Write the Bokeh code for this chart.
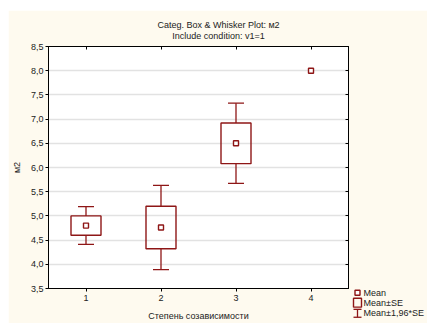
from bokeh.plotting import figure
from bokeh.models import (Range1d, FixedTicker, LinearAxis, ColumnDataSource)
from bokeh.core.properties import value
from bokeh.embed import file_html
from bokeh.resources import INLINE

# ---- data ----
categories = [1, 2, 3, 4]
means = [4.80, 4.76, 6.50, 8.00]
se_low = [4.60, 4.32, 6.08, 8.00]
se_high = [5.00, 5.20, 6.92, 8.00]
ci_low = [4.41, 3.89, 5.67, 8.00]
ci_high = [5.19, 5.63, 7.33, 8.00]
x_ticks = [1, 2, 3, 4]
x_tick_labels = ["1", "2", "3", "4"]
y_ticks = [3.5, 4.0, 4.5, 5.0, 5.5, 6.0, 6.5, 7.0, 7.5, 8.0, 8.5]
y_tick_labels = ["3,5", "4,0", "4,5", "5,0", "5,5", "6,0", "6,5", "7,0", "7,5", "8,0", "8,5"]
title_text = "Categ. Box & Whisker Plot: м2"
subtitle_text = "Include condition: v1=1"
x_label = "Степень созависимости"
y_label = "м2"
legend_labels = ["Mean", "Mean±SE", "Mean±1,96*SE"]

FONT = "Liberation Sans"
RED = "#8E1616"
CREAM = "#FEFAEF"
TXT = "#222222"

W, H = 419, 313
BL, BR, BT, BB = 40, 79, 36, 33
FW, FH = W - BL - BR, H - BT - BB

p = figure(width=W, height=H, output_backend="svg", toolbar_location=None,
           x_range=Range1d(0.5, 4.5), y_range=Range1d(3.5, 8.5),
           min_border_left=BL, min_border_right=BR, min_border_top=BT,
           min_border_bottom=BB)
p.margin = (10, 0, 0, 8)
p.background_fill_color = "white"
p.border_fill_color = CREAM
p.outline_line_color = "black"
p.outline_line_width = 1

# pixel -> data helpers (relative to the frame)
ppx = FW / 4.0
ppy = FH / 5.0
def dx(px):  # screen px from frame left -> data x
    return 0.5 + px / ppx
def dy(py):  # screen px from frame top -> data y
    return 8.5 - py / ppy

# axes
p.xaxis.ticker = FixedTicker(ticks=x_ticks)
p.xaxis.major_label_overrides = {t: l for t, l in zip(x_ticks, x_tick_labels)}
p.yaxis.ticker = FixedTicker(ticks=y_ticks)
p.yaxis.major_label_overrides = {t: l for t, l in zip(y_ticks, y_tick_labels)}
for ax in (p.xaxis[0], p.yaxis[0]):
    ax.axis_line_color = "black"
    ax.major_tick_line_color = "black"
    ax.major_tick_in = 0
    ax.major_tick_out = 3
    ax.minor_tick_line_color = None
    ax.major_label_text_font = FONT
    ax.major_label_text_font_size = "9px"
    ax.major_label_text_color = TXT
    ax.axis_label_text_font = FONT
    ax.axis_label_text_font_size = "9px"
    ax.axis_label_text_font_style = "normal"
    ax.axis_label_text_color = TXT
p.xaxis.axis_label = x_label
p.yaxis.axis_label = y_label
p.xaxis.major_label_standoff = 3
p.xaxis.axis_label_standoff = 7
p.yaxis.major_label_standoff = 2
p.yaxis.axis_label_standoff = 6

top_ax = LinearAxis(ticker=FixedTicker(ticks=x_ticks), major_tick_in=3, major_tick_out=0,
                    minor_tick_line_color=None, major_label_text_color=None,
                    major_label_text_font_size="9px",
                    axis_line_color="black", major_tick_line_color="black")
right_ax = LinearAxis(ticker=FixedTicker(ticks=y_ticks), major_tick_in=3, major_tick_out=0,
                      minor_tick_line_color=None, major_label_text_color=None,
                      major_label_text_font_size="9px",
                      axis_line_color="black", major_tick_line_color="black")
p.add_layout(top_ax, "above")
p.add_layout(right_ax, "right")

p.xgrid.grid_line_color = None
p.ygrid.ticker = FixedTicker(ticks=y_ticks)
p.ygrid.grid_line_color = "#E2E2E2"
p.ygrid.grid_line_width = 1.6

# ---- boxes & whiskers (only where spread exists) ----
idx = [i for i in range(len(categories)) if ci_high[i] > ci_low[i]]
bw = 15 / ppx   # half box width (15 px)
cw = 8 / ppx    # half cap width (8 px)
src = ColumnDataSource(dict(
    x=[categories[i] for i in idx],
    left=[categories[i] - bw for i in idx],
    right=[categories[i] + bw for i in idx],
    cl=[categories[i] - cw for i in idx],
    cr=[categories[i] + cw for i in idx],
    se_low=[se_low[i] for i in idx],
    se_high=[se_high[i] for i in idx],
    ci_low=[ci_low[i] for i in idx],
    ci_high=[ci_high[i] for i in idx],
))
p.segment(x0="x", y0="ci_low", x1="x", y1="se_low", source=src, line_color=RED, line_width=1.3)
p.segment(x0="x", y0="se_high", x1="x", y1="ci_high", source=src, line_color=RED, line_width=1.3)
p.segment(x0="cl", y0="ci_low", x1="cr", y1="ci_low", source=src, line_color=RED, line_width=1.3)
p.segment(x0="cl", y0="ci_high", x1="cr", y1="ci_high", source=src, line_color=RED, line_width=1.3)
p.quad(left="left", right="right", bottom="se_low", top="se_high", source=src,
       fill_color=None, line_color=RED, line_width=1.4)

msrc = ColumnDataSource(dict(x=categories, y=means))
p.scatter(x="x", y="y", source=msrc, marker="square", size=5, fill_color="white",
          line_color=RED, line_width=1.4)

# ---- titles (drawn above the frame) ----
tx = dx(218 - 48)
p.text(x=[tx], y=[dy(-22)], text=[title_text], text_align="center", text_baseline="middle",
       text_font=value(FONT), text_font_size="9px", text_color=TXT, level="overlay")
p.text(x=[tx], y=[dy(-11)], text=[subtitle_text], text_align="center", text_baseline="middle",
       text_font=value(FONT), text_font_size="9px", text_color=TXT, level="overlay")

# ---- manual legend below right of frame ----
lx = dx(309)
rows = [dy(FH + 4.3), dy(FH + 14.3), dy(FH + 25)]
hx = 4 / ppx
sq = 2.5
p.quad(left=[lx - sq / ppx], right=[lx + sq / ppx], bottom=[rows[0] - sq / ppy],
       top=[rows[0] + sq / ppy], fill_color="white", line_color=RED, line_width=1.4,
       level="overlay")
p.quad(left=[lx - hx], right=[lx + hx], bottom=[rows[1] - 4.5 / ppy], top=[rows[1] + 4.5 / ppy],
       fill_color=None, line_color=RED, line_width=1.4, level="overlay")
p.segment(x0=[lx], y0=[rows[2] - 4 / ppy], x1=[lx], y1=[rows[2] + 4 / ppy],
          line_color=RED, line_width=1.3, level="overlay")
p.segment(x0=[lx - hx, lx - hx], y0=[rows[2] - 4 / ppy, rows[2] + 4 / ppy],
          x1=[lx + hx, lx + hx], y1=[rows[2] - 4 / ppy, rows[2] + 4 / ppy],
          line_color=RED, line_width=1.3, level="overlay")
p.text(x=[dx(315)] * 3, y=rows, text=legend_labels, text_align="left", text_baseline="middle",
       text_font=value(FONT), text_font_size="9px", text_color=TXT, level="overlay")

open("out.html", "w").write(file_html(p, INLINE))
